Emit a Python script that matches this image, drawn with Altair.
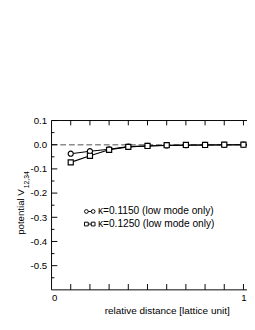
import altair as alt
import pandas as pd

# ---- data ----
distance = [0.1, 0.2, 0.3, 0.4, 0.5, 0.6, 0.7, 0.8, 0.9, 1.0, 1.1]
v_k1150 = [-0.037, -0.027, -0.019, -0.008, -0.005, -0.003, -0.002, -0.001, -0.001, 0.0, 0.0]
v_k1250 = [-0.073, -0.046, -0.021, -0.009, -0.005, -0.002, -0.001, -0.001, 0.0, 0.0, 0.0]
series_labels = ["κ=0.1150 (low mode only)", "κ=0.1250 (low mode only)"]
series_shapes = ["circle", "square"]

x_tick_values = [0.1, 0.2, 0.3, 0.4, 0.5, 0.6, 0.7, 0.8, 0.9, 1.0, 1.1]
x_label_values = [0, 1]
y_label_values = [-0.5, -0.4, -0.3, -0.2, -0.1, 0.0, 0.1]
y_minor_values = [-0.55, -0.45, -0.35, -0.25, -0.15, -0.05, 0.05]

x_title = "relative distance [lattice unit]"
y_title_main = "potential V"
y_title_sub = "12,34"

FONT = "Liberation Sans"
W_RANGE = 238   # pixel length of x domain [0, 1.2]
W_VIEW = 194
H = 175

xs = alt.Scale(domain=[0, 1.2], range=[0, W_RANGE], nice=False, zero=False)
ys = alt.Scale(domain=[-0.6, 0.1], nice=False, zero=False)

x_axis = alt.Axis(values=x_label_values, format="d", ticks=False, tickSize=0, domain=False,
                  grid=False, labelPadding=3, labelFont=FONT, labelFontSize=10,
                  labelColor="black", titleFont=FONT, titleFontSize=10.3,
                  titleFontWeight="normal", titleColor="black", titlePadding=3)
y_axis = alt.Axis(values=y_label_values, ticks=False, tickSize=0, domain=False, grid=False,
                  labelExpr="datum.value < -0.001 ? '-' + format(-datum.value, '.1f') : format(abs(datum.value), '.1f')",
                  labelPadding=5, labelFont=FONT, labelFontSize=10, labelColor="black")

df = pd.DataFrame({
    "d": distance * 2,
    "v": v_k1150 + v_k1250,
    "s": [series_labels[0]] * len(distance) + [series_labels[1]] * len(distance),
})

layers = []

# dashed zero line
layers.append(
    alt.Chart(pd.DataFrame({"v": [0.0]})).mark_rule(color="#8c8c8c", strokeWidth=1.5, strokeDash=[6, 3])
    .encode(y=alt.Y("v:Q", scale=ys, axis=y_axis, title=""), x=alt.value(0), x2=alt.value(W_RANGE))
)

# data series
for lab, shp in zip(series_labels, series_shapes):
    sub = df[df["s"] == lab]
    base = alt.Chart(sub).encode(
        x=alt.X("d:Q", scale=xs, axis=x_axis, title=x_title),
        y=alt.Y("v:Q", scale=ys, axis=y_axis, title=""),
    )
    layers.append(base.mark_line(color="black", strokeWidth=1.1))
    layers.append(base.mark_point(shape=shp, filled=True, fill="white", stroke="black",
                                  strokeWidth=1.2, size=28, opacity=1))

# frame
layers.append(alt.Chart(pd.DataFrame({"a": [0]})).mark_rule(color="black", strokeWidth=1)
              .encode(x=alt.value(0), y=alt.value(0), y2=alt.value(H)))
layers.append(alt.Chart(pd.DataFrame({"a": [0]})).mark_rule(color="black", strokeWidth=1)
              .encode(y=alt.value(H), x=alt.value(0), x2=alt.value(W_RANGE)))
layers.append(alt.Chart(pd.DataFrame({"a": [0]})).mark_rule(color="black", strokeWidth=1)
              .encode(y=alt.value(0), x=alt.value(0), x2=alt.value(W_RANGE)))

# inward ticks
xt = pd.DataFrame({"d": x_tick_values})
layers.append(alt.Chart(xt).mark_rule(color="black", strokeWidth=1)
              .encode(x=alt.X("d:Q", scale=xs, axis=x_axis, title=x_title), y=alt.value(H), y2=alt.value(H - 6)))
layers.append(alt.Chart(xt).mark_rule(color="black", strokeWidth=1)
              .encode(x=alt.X("d:Q", scale=xs, axis=x_axis, title=x_title), y=alt.value(0), y2=alt.value(5)))
yt = pd.DataFrame({"v": y_label_values})
layers.append(alt.Chart(yt).mark_rule(color="black", strokeWidth=1)
              .encode(y=alt.Y("v:Q", scale=ys, axis=y_axis, title=""), x=alt.value(0), x2=alt.value(6)))
ym = pd.DataFrame({"v": y_minor_values})
layers.append(alt.Chart(ym).mark_rule(color="black", strokeWidth=1)
              .encode(y=alt.Y("v:Q", scale=ys, axis=y_axis, title=""), x=alt.value(0), x2=alt.value(3)))

# legend (inside plot)
legend_rows_y = [94, 107]
for lab, shp, ly in zip(series_labels, series_shapes, legend_rows_y):
    one = alt.Chart(pd.DataFrame({"t": [lab]}))
    layers.append(one.mark_rule(color="black", strokeWidth=1)
                  .encode(x=alt.value(36), x2=alt.value(43), y=alt.value(ly)))
    for lx in (36, 43):
        layers.append(one.mark_point(shape=shp, filled=True, fill="white", stroke="black",
                                     strokeWidth=1, size=15, opacity=1)
                      .encode(x=alt.value(lx), y=alt.value(ly)))
    layers.append(one.mark_text(align="left", baseline="middle", font=FONT, fontSize=10.5, color="black")
                  .encode(x=alt.value(48), y=alt.value(ly), text="t:N"))

# y title with subscript
tt = alt.Chart(pd.DataFrame({"m": [y_title_main], "s": [y_title_sub]}))
layers.append(tt.mark_text(angle=270, align="right", baseline="middle", font=FONT, fontSize=10, color="black")
              .encode(x=alt.value(-31), y=alt.value(71), text="m:N"))
layers.append(tt.mark_text(angle=270, align="left", baseline="middle", font=FONT, fontSize=7, color="black")
              .encode(x=alt.value(-25), y=alt.value(70), text="s:N"))

chart = alt.layer(*layers).properties(
    width=W_VIEW, height=H,
    autosize=alt.AutoSizeParams(type="none"),
    padding={"left": 45, "top": 111, "right": 8, "bottom": 30},
).configure_view(strokeWidth=0, strokeOpacity=0)

chart.save("out.html", embed_options={"renderer": "svg", "actions": False})
